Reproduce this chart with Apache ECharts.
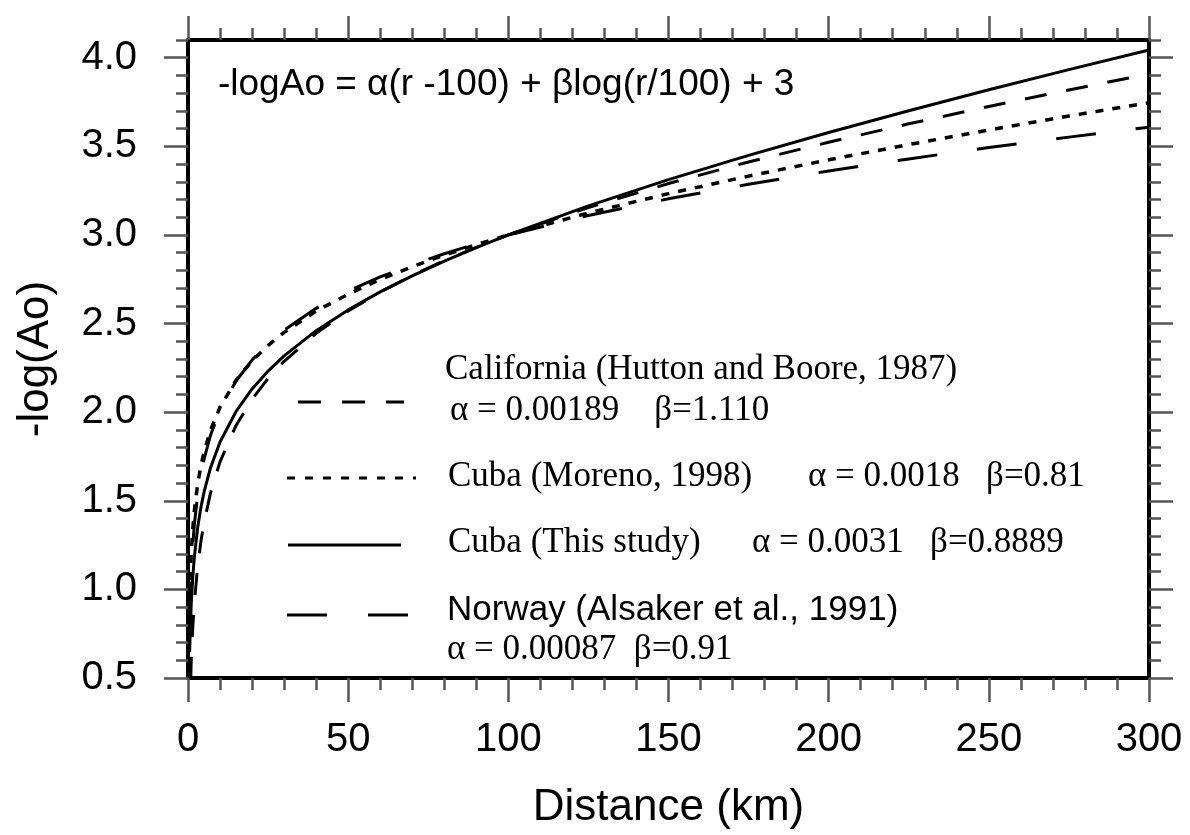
<!DOCTYPE html>
<html>
<head>
<meta charset="utf-8">
<script src="https://cdn.jsdelivr.net/npm/echarts@6/dist/echarts.min.js"></script>
<style>html,body{margin:0;padding:0;background:#fff;}#c{width:1190px;height:835px;}</style>
</head>
<body>
<div id="c"></div>
<script>
// Distance (km)
var DIST = [0.5, 1, 1.5, 2, 3, 4, 5, 7, 10, 15, 20, 25, 30, 40, 50, 60, 70, 80, 90, 100, 125, 150, 175, 200, 225, 250, 275, 300];
// California (Hutton and Boore, 1987)
var CALIFORNIA = [0.258, 0.593, 0.789, 0.929, 1.126, 1.267, 1.376, 1.542, 1.720, 1.925, 2.073, 2.190, 2.287, 2.445, 2.571, 2.678, 2.771, 2.855, 2.930, 3.000, 3.155, 3.290, 3.412, 3.523, 3.627, 3.725, 3.818, 3.908];
// Cuba (Moreno, 1998)
var MORENO = [0.957, 1.202, 1.345, 1.447, 1.592, 1.695, 1.775, 1.897, 2.028, 2.180, 2.290, 2.377, 2.450, 2.570, 2.666, 2.748, 2.821, 2.886, 2.945, 3.000, 3.124, 3.233, 3.332, 3.424, 3.510, 3.592, 3.671, 3.746];
// Cuba (This study)
var THIS_STUDY = [0.646, 0.915, 1.073, 1.186, 1.346, 1.460, 1.549, 1.685, 1.832, 2.004, 2.131, 2.232, 2.318, 2.460, 2.577, 2.679, 2.769, 2.852, 2.928, 3.000, 3.164, 3.312, 3.449, 3.578, 3.701, 3.819, 3.933, 4.044];
// Norway (Alsaker et al., 1991)
var NORWAY = [0.819, 1.094, 1.255, 1.369, 1.530, 1.644, 1.733, 1.868, 2.012, 2.176, 2.294, 2.387, 2.463, 2.586, 2.683, 2.763, 2.833, 2.894, 2.950, 3.000, 3.110, 3.204, 3.286, 3.361, 3.429, 3.493, 3.552, 3.608];
// Tick labels
var Y_TICKS = [0.5, 1.0, 1.5, 2.0, 2.5, 3.0, 3.5, 4.0];

function pairs(ys){ return DIST.map(function(d,i){ return [d, ys[i]]; }); }

var SANS = '"Liberation Sans", Arial, Helvetica, sans-serif';
var SERIF = '"Liberation Serif", "Times New Roman", serif';
var TICK = {color:'#555', width:2.5};

function xAx(pos, labels){
  return {
    type:'value', position:pos, min:0, max:300, interval:50,
    axisLine:{show:true, onZero:false, lineStyle:{color:'#000', width:4}},
    axisTick:{show:true, inside:false, length:24, lineStyle:TICK},
    minorTick:{show:true, splitNumber:5, length:12, lineStyle:TICK},
    axisLabel:{show:labels, fontSize:40, color:'#000', margin:42, fontFamily:SANS},
    splitLine:{show:false}, minorSplitLine:{show:false},
    name: labels ? 'Distance (km)' : '', nameLocation:'middle', nameGap:108,
    nameTextStyle:{fontSize:44, color:'#000', fontFamily:SANS}
  };
}
function yMajor(pos, labels){
  return {
    type:'value', position:pos, min:0.5, max:4.1, interval:0.5,
    axisLine:{show:true, onZero:false, lineStyle:{color:'#000', width:4}},
    axisTick:{show:true, inside:false, length:24, lineStyle:TICK, customValues:Y_TICKS},
    axisLabel:{show:labels, fontSize:40, color:'#000', margin:51, fontFamily:SANS, customValues:Y_TICKS,
      formatter:function(v){ return v.toFixed(1); }},
    splitLine:{show:false},
    name: labels ? '-log(Ao)' : '', nameLocation:'middle', nameGap:130, nameRotate:90,
    nameTextStyle:{fontSize:44, color:'#000', fontFamily:SANS}
  };
}
function yMinor(pos){
  return {
    type:'value', position:pos, min:0.5, max:4.1, interval:0.1,
    axisLine:{show:false, onZero:false},
    axisTick:{show:true, inside:false, length:12, lineStyle:TICK},
    axisLabel:{show:false}, splitLine:{show:false}
  };
}

function lineSeries(name, ys, dash, w){
  return {
    name:name, type:'line', xAxisIndex:0, yAxisIndex:0, data:pairs(ys),
    showSymbol:false, symbol:'none', clip:true, z:3,
    lineStyle:{color:'#000', width:w, type:dash}
  };
}

function legLine(x1, x2, y, dash){
  return {type:'line', shape:{x1:x1, y1:y, x2:x2, y2:y}, style:{stroke:'#000', lineWidth:3, lineDash:dash}, z:10};
}
function txt(s, x, y, fam, size){
  return {type:'text', x:x, y:y, z:10, style:{text:s, fill:'#000', fontSize:size, fontFamily:fam, align:'left', verticalAlign:'middle'}};
}

var chart = echarts.init(document.getElementById('c'), null, {renderer:'canvas'});
chart.setOption({
  animation:false,
  backgroundColor:'#fff',
  grid:{left:188, right:41, top:40, bottom:154, containLabel:false},
  xAxis:[xAx('bottom', true), xAx('top', false)],
  yAxis:[yMajor('left', true), yMinor('left'), yMajor('right', false), yMinor('right')],
  series:[
    lineSeries('California (Hutton and Boore, 1987)', CALIFORNIA, [22,20], 3),
    lineSeries('Cuba (Moreno, 1998)', MORENO, [8,9], 3.5),
    lineSeries('Norway (Alsaker et al., 1991)', NORWAY, [40,40], 3),
    lineSeries('Cuba (This study)', THIS_STUDY, 'solid', 3)
  ],
  graphic:[
    txt('-logAo = \u03b1(r -100) + \u03b2log(r/100) + 3', 218, 85, SANS, 37),
    legLine(298, 404, 402, [23,21]),
    txt('California (Hutton and Boore, 1987)', 445, 370, SERIF, 35),
    txt('\u03b1 = 0.00189    \u03b2=1.110', 450, 411, SERIF, 35),
    legLine(287, 416, 478, [8,10]),
    txt('Cuba (Moreno, 1998)', 448, 477, SERIF, 35),
    txt('\u03b1 = 0.0018   \u03b2=0.81', 808, 477, SERIF, 35),
    legLine(288, 401, 545, null),
    txt('Cuba (This study)', 448, 543, SERIF, 35),
    txt('\u03b1 = 0.0031   \u03b2=0.8889', 752, 543, SERIF, 35),
    legLine(287, 410, 615, [40,41]),
    txt('Norway (Alsaker et al., 1991)', 447, 610, SANS, 35),
    txt('\u03b1 = 0.00087  \u03b2=0.91', 447, 650, SERIF, 35)
  ]
});
</script>
</body>
</html>
